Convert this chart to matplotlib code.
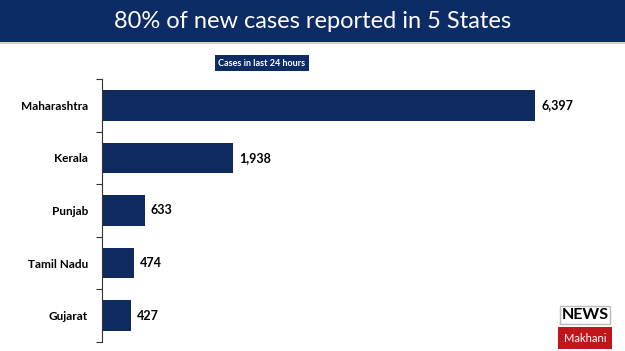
import matplotlib.pyplot as plt
from matplotlib.patches import Rectangle

states = ["Maharashtra", "Kerala", "Punjab", "Tamil Nadu", "Gujarat"]
cases = [6397, 1938, 633, 474, 427]
title = "80% of new cases reported in 5 States"
subtitle = "Cases in last 24 hours"

navy = '#0d2b65'
bar_color = '#0f2a5f'

fig = plt.figure(figsize=(6.25, 3.51), dpi=100)
fig.patch.set_facecolor('white')

# title band
fig.patches.append(Rectangle((0, 1 - 42 / 351), 1, 42 / 351, transform=fig.transFigure,
                             facecolor=navy, edgecolor='none', zorder=0))
fig.patches.append(Rectangle((0, 1 - 44 / 351), 1, 2 / 351, transform=fig.transFigure,
                             facecolor='#d9cfc6', edgecolor='none', zorder=0))
fig.text(0.5, 1 - 21 / 351, title, ha='center', va='center', color='white',
         fontsize=17, family='Lato')

fig.text(262 / 625, 1 - 63 / 351, subtitle, ha='center', va='center', color='white',
         fontsize=6.5, fontweight='bold', family='Lato',
         bbox=dict(boxstyle='square,pad=0.35', facecolor=navy, edgecolor='none'))

ax = fig.add_axes([102 / 625, 9 / 351, 474 / 625, 263 / 351])
y = range(len(states))
ax.barh(y, cases, height=0.58, color=bar_color)
ax.set_xlim(0, 7000)
ax.set_ylim(len(states) - 0.5, -0.5)
ax.set_yticks([i - 0.5 for i in range(len(states) + 1)])
ax.set_yticklabels([])
ax.set_yticks(list(y), minor=True)
ax.set_yticklabels(states, minor=True, fontsize=8.5, fontweight='bold', family='Lato')
ax.tick_params(axis='y', which='minor', length=0, pad=10)
ax.tick_params(axis='y', which='major', length=4, width=0.8, color='#333333')
ax.set_xticks([])
for s in ['top', 'right', 'bottom']:
    ax.spines[s].set_visible(False)
ax.spines['left'].set_color('#333333')
ax.spines['left'].set_linewidth(0.8)

for i, v in enumerate(cases):
    ax.text(v + 90, i, f"{v:,}", va='center', ha='left', fontsize=9,
            fontweight='bold', family='Lato')

# logo
fig.text(585 / 625, 1 - 315 / 351, "NEWS", ha='center', va='center', fontsize=11.5,
         fontweight='bold', family='Lato', color='black',
         bbox=dict(boxstyle='square,pad=0.1', facecolor='white', edgecolor='#bbbbbb'))
fig.text(585 / 625, 1 - 338 / 351, "Makhani", ha='center', va='center', fontsize=8,
         family='Lato', color='white',
         bbox=dict(boxstyle='square,pad=0.5', facecolor='#c0161b', edgecolor='none'))

plt.savefig('out.png', dpi=100)
